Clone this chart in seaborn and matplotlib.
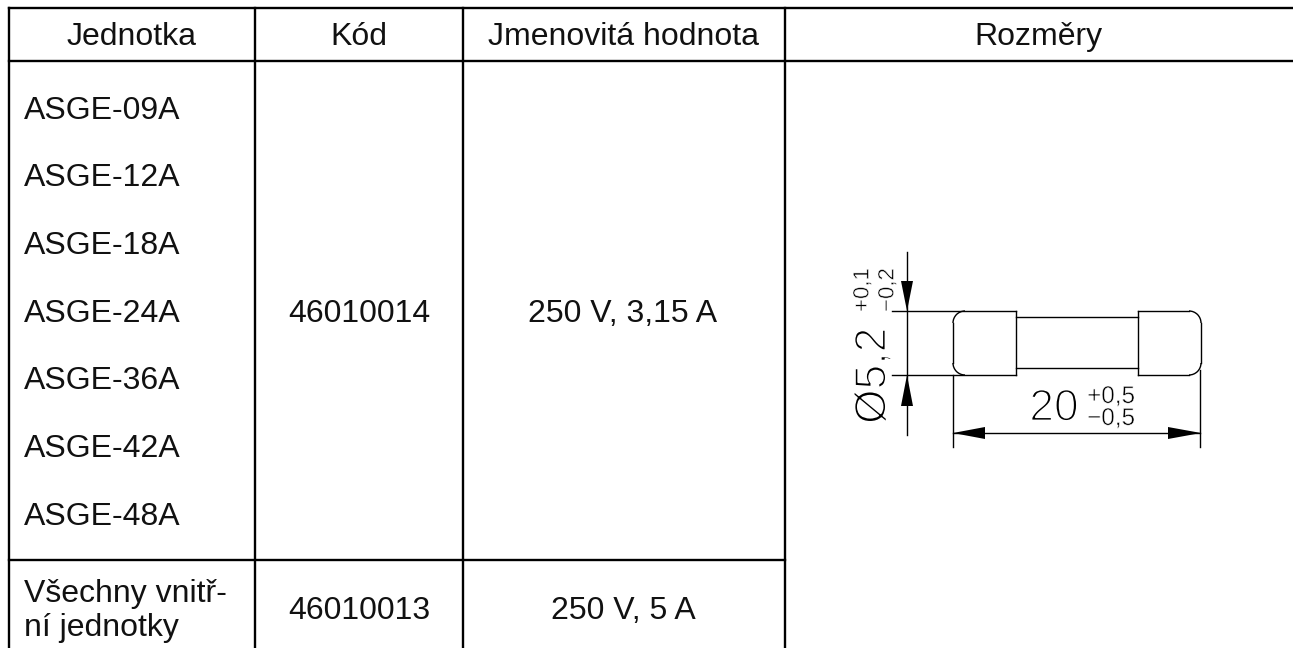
import matplotlib
matplotlib.use("Agg")
import matplotlib.pyplot as plt
import matplotlib.patheffects as pe
from matplotlib.patches import Arc
import pandas as pd
import seaborn as sns

# table content
headers = ["Jednotka", "Kód", "Jmenovitá hodnota", "Rozměry"]
units = ["ASGE-09A", "ASGE-12A", "ASGE-18A", "ASGE-24A", "ASGE-36A", "ASGE-42A", "ASGE-48A"]
last_unit = ["Všechny vnitř-", "ní jednotky"]
codes = ["46010014", "46010013"]
ratings = ["250 V, 3,15 A", "250 V, 5 A"]

# drawing labels
dia_main = "Ø5,2"
dia_tol = ["+0,1", "−0,2"]
len_main = "20"
len_tol = ["+0,5", "−0,5"]

# grid
col_x = [9, 255, 463, 785]
row_y = [8, 61, 560]
header_cx = [132, 359, 623, 1038]
unit_y = [111, 178, 246, 314, 381, 449, 517]

sns.set_theme(style="white")
plt.rcParams["font.family"] = ["Liberation Sans", "DejaVu Sans"]

fig, ax = plt.subplots(figsize=(12.93, 6.48), dpi=100)
fig.subplots_adjust(0, 0, 1, 1)


def segs(lst):
    rows = []
    for i, (x0, y0, x1, y1) in enumerate(lst):
        rows.append({"seg": i, "x": x0, "y": y0})
        rows.append({"seg": i, "x": x1, "y": y1})
    return pd.DataFrame(rows)


def draw(lst, lw):
    sns.lineplot(data=segs(lst), x="x", y="y", units="seg", estimator=None, sort=False,
                 color="black", lw=lw, ax=ax, solid_capstyle="projecting")


# table lines, no right or bottom border in the original
table = [(col_x[0], row_y[0], 1293, row_y[0]),
         (col_x[0], row_y[1], 1293, row_y[1]),
         (col_x[0], row_y[2], col_x[3], row_y[2])]
for x in col_x:
    table.append((x, row_y[0], x, 648))
draw(table, 1.7)

# fuse outline
fuse = [
    (892, 311, 1016, 311), (892, 375, 1016, 375),
    (953, 323, 953, 363), (1016, 311, 1016, 375),
    (1016, 317, 1138, 317), (1016, 368, 1138, 368),
    (1138, 311, 1138, 375), (1138, 311, 1189, 311), (1138, 375, 1189, 375),
    (1201, 323, 1201, 363),
    (907, 252, 907, 435),
    (953, 375, 953, 447), (1200, 370, 1200, 447),
    (953, 433, 1200, 433),
]
draw(fuse, 1.0)
for cx, cy, t1, t2 in [(965, 323, 180, 270), (965, 363, 90, 180), (1189, 323, 270, 360), (1189, 363, 0, 90)]:
    ax.add_patch(Arc((cx, cy), 24, 24, theta1=t1, theta2=t2, color="black", lw=1.0))

# arrows
for tip, base, vert in [((907, 311), 281, True), ((907, 375), 406, True), ((953, 433), 985, False), ((1201, 433), 1168, False)]:
    if vert:
        ax.fill([tip[0], tip[0] - 6, tip[0] + 6], [tip[1], base, base], color="black", lw=0)
    else:
        ax.fill([tip[0], base, base], [tip[1], tip[1] - 6, tip[1] + 6], color="black", lw=0)

# text
TXT = "#111111"
SIZE = 23
for cx, h in zip(header_cx, headers):
    ax.text(cx, 37, h, ha="center", va="center", fontsize=SIZE, color=TXT)
for y, u in zip(unit_y, units):
    ax.text(24, y, u, ha="left", va="center", fontsize=SIZE, color=TXT)
ax.text(24, 594, last_unit[0], ha="left", va="center", fontsize=SIZE, color=TXT)
ax.text(24, 628, last_unit[1], ha="left", va="center", fontsize=SIZE, color=TXT)
ax.text(359, 314, codes[0], ha="center", va="center", fontsize=SIZE, color=TXT)
ax.text(359, 611, codes[1], ha="center", va="center", fontsize=SIZE, color=TXT)
ax.text(623, 314, ratings[0], ha="center", va="center", fontsize=SIZE, color=TXT)
ax.text(623, 611, ratings[1], ha="center", va="center", fontsize=SIZE, color=TXT)

# thin stroke look for the dimension labels
thin = [pe.Stroke(linewidth=1.3, foreground="white")]
thin2 = [pe.Stroke(linewidth=0.4, foreground="white")]
ax.text(874, 424, dia_main, rotation=90, ha="center", va="bottom", fontsize=32, color="black", path_effects=thin)
ax.text(863, 312, dia_tol[0], rotation=90, ha="center", va="bottom", fontsize=16, color="black", path_effects=thin2)
ax.text(888, 312, dia_tol[1], rotation=90, ha="center", va="bottom", fontsize=16, color="black", path_effects=thin2)
ax.text(1054, 409, len_main, ha="center", va="center", fontsize=32, color="black", path_effects=thin)
ax.text(1111, 397, len_tol[0], ha="center", va="center", fontsize=17.5, color="black", path_effects=thin2)
ax.text(1111, 419, len_tol[1], ha="center", va="center", fontsize=17.5, color="black", path_effects=thin2)

ax.set_xlim(0, 1293)
ax.set_ylim(648, 0)
ax.axis("off")
plt.savefig("out.png", dpi=100)
